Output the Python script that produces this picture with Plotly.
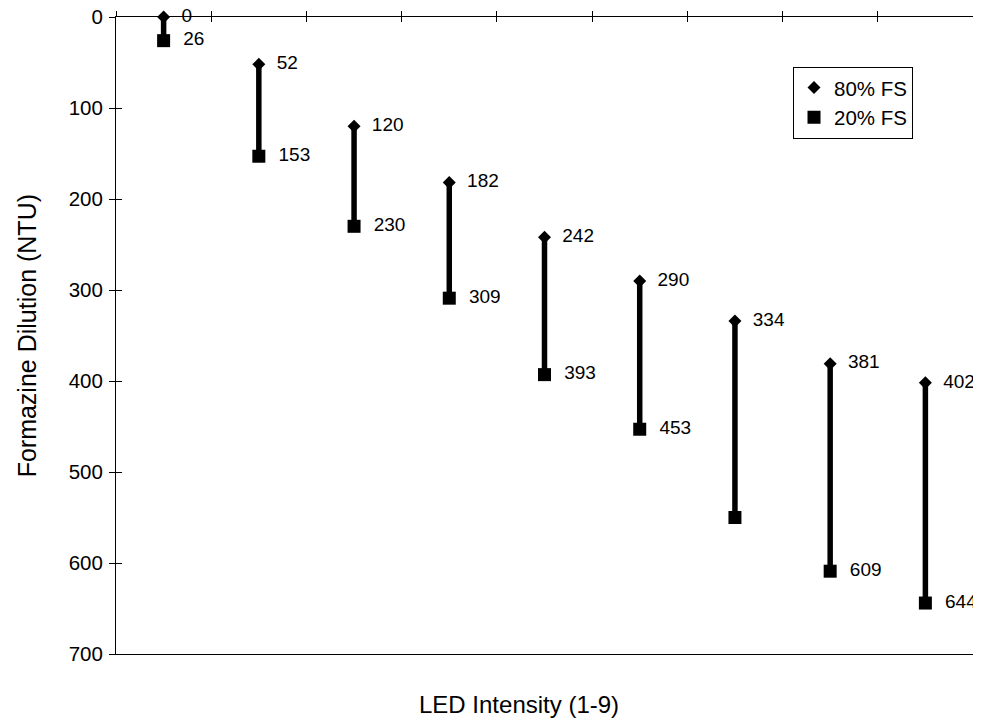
"""
LED intensity vs formazine dilution — 80% / 20% full-scale ranges.
"""

import plotly.graph_objects as go

# data
led_intensity = [1, 2, 3, 4, 5, 6, 7, 8, 9]
fs80 = [0, 52, 120, 182, 242, 290, 334, 381, 402]
fs20 = [26, 153, 230, 309, 393, 453, 550, 609, 644]
fs80_labels = ["0", "52", "120", "182", "242", "290", "334", "381", "402"]
fs20_labels = ["26", "153", "230", "309", "393", "453", "", "609", "644"]
y_ticks = [0, 100, 200, 300, 400, 500, 600, 700]

FONT = "Liberation Sans, Arial, sans-serif"

# vertical range bars: one segment per intensity, None breaks between them
bar_x, bar_y = [], []
for x, hi, lo in zip(led_intensity, fs80, fs20):
    bar_x += [x, x, None]
    bar_y += [hi, lo, None]

fig = go.Figure()

fig.add_trace(go.Scatter(
    x=bar_x, y=bar_y, mode="lines",
    line=dict(color="black", width=5.5),
    showlegend=False, hoverinfo="skip",
))

fig.add_trace(go.Scatter(
    x=led_intensity, y=fs80, mode="markers+text", name="80% FS",
    marker=dict(symbol="diamond", size=10, color="black"),
    text=fs80_labels, texttemplate="  %{text}", textposition="middle right",
    textfont=dict(size=19, color="black", family=FONT),
    cliponaxis=False,
))

fig.add_trace(go.Scatter(
    x=led_intensity, y=fs20, mode="markers+text", name="20% FS",
    marker=dict(symbol="square", size=13, color="black"),
    text=fs20_labels, texttemplate="  %{text}", textposition="middle right",
    textfont=dict(size=19, color="black", family=FONT),
    cliponaxis=False,
))

# empty trace so the overlay axes (inner half of the cross ticks) get drawn
fig.add_trace(go.Scatter(x=[None], y=[None], xaxis="x2", yaxis="y2",
                         showlegend=False, hoverinfo="skip"))

n = len(led_intensity)
x_range = [0.5, n + 0.5]
x_ticks = [i + 0.5 for i in range(n + 1)]

# the page body adds an 8px offset, so margins are 8px smaller on the left/top
fig.update_layout(
    width=973, height=715,
    margin=dict(l=108, r=8, t=9, b=69),
    plot_bgcolor="white", paper_bgcolor="white",
    font=dict(family=FONT, size=20, color="black"),
    xaxis=dict(
        side="top", range=x_range, tickvals=x_ticks, showticklabels=False,
        ticks="outside", ticklen=5, tickcolor="black",
        showline=True, linecolor="black", linewidth=1, mirror=True,
        showgrid=False, zeroline=False, automargin=False,
    ),
    yaxis=dict(
        range=[700, 0], tickvals=y_ticks,
        ticks="outside", ticklen=6, tickcolor="black", ticklabelstandoff=2,
        ticklabeloverflow="allow",
        showline=True, linecolor="black", linewidth=1, mirror=True,
        showgrid=False, zeroline=False, automargin=False,
        tickfont=dict(size=20.5),
    ),
    xaxis2=dict(
        overlaying="x", side="top", range=x_range, tickvals=x_ticks,
        showticklabels=False, ticks="inside", ticklen=5, tickcolor="black",
        showline=False, showgrid=False, zeroline=False, automargin=False,
    ),
    yaxis2=dict(
        overlaying="y", side="left", range=[700, 0], tickvals=y_ticks,
        showticklabels=False, ticks="inside", ticklen=6, tickcolor="black",
        showline=False, showgrid=False, zeroline=False, automargin=False,
    ),
    legend=dict(
        x=0.93, y=0.922, xanchor="right", yanchor="top",
        bordercolor="black", borderwidth=1, bgcolor="white",
        font=dict(size=20.5), itemwidth=30,
    ),
    showlegend=True,
)

fig.add_annotation(
    text="LED Intensity (1-9)", xref="paper", yref="paper",
    x=0.47, y=-0.08, xanchor="center", yanchor="middle",
    showarrow=False, font=dict(size=24),
)
fig.add_annotation(
    text="Formazine Dilution (NTU)", xref="paper", yref="paper",
    x=-0.104, y=0.5, xanchor="center", yanchor="middle", textangle=-90,
    showarrow=False, font=dict(size=25),
)

fig.write_html("out.html")
